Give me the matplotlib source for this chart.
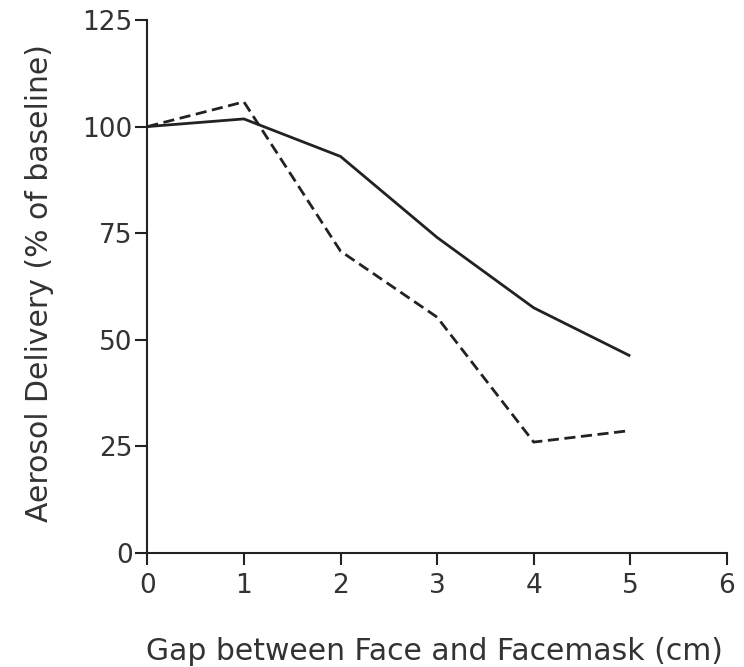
import matplotlib
matplotlib.use("Agg")
import matplotlib.pyplot as plt

# gap between face and facemask, cm
gap_cm = [0, 1, 2, 3, 4, 5]
# aerosol delivery as % of baseline for the two conditions
delivery_solid = [100, 101.8, 93, 74, 57.5, 46.2]
delivery_dashed = [100, 105.8, 70.8, 55.3, 26, 28.7]

x_ticks = [0, 1, 2, 3, 4, 5, 6]
y_ticks = [0, 25, 50, 75, 100, 125]

ink = "#222222"
text_ink = "#333333"
plt.rcParams["font.family"] = ["DejaVu Sans"]

fig = plt.figure(figsize=(7.44, 6.67), dpi=100, facecolor="w")
ax = fig.add_axes([0.198, 0.171, 0.779, 0.799])

ax.plot(gap_cm, delivery_solid, color=ink, lw=2.0, solid_capstyle="butt")
ax.plot(gap_cm, delivery_dashed, color=ink, lw=2.0, dashes=(4, 2))

ax.set_xlim(0, 6)
ax.set_ylim(0, 125)
ax.set_xticks(x_ticks)
ax.set_yticks(y_ticks)

for spine in ("top", "right"):
    ax.spines[spine].set_visible(False)
for spine in ("left", "bottom"):
    ax.spines[spine].set_linewidth(1.5)
    ax.spines[spine].set_color(ink)

ax.tick_params(direction="out", length=8.5, width=1.5, color=ink,
               labelcolor=text_ink, labelsize=19, pad=2)
ax.tick_params(axis="x", pad=6)

ax.set_xlabel("Gap between Face and Facemask (cm)", fontsize=21.5, color=text_ink)
ax.set_ylabel("Aerosol Delivery (% of baseline)", fontsize=21.5, color=text_ink)
ax.xaxis.label.set_va("baseline")
ax.xaxis.set_label_coords(0.495, -0.2008)
ax.yaxis.label.set_va("baseline")
ax.yaxis.set_label_coords(-0.1707, 0.5066)

fig.savefig("out.png", dpi=100)
